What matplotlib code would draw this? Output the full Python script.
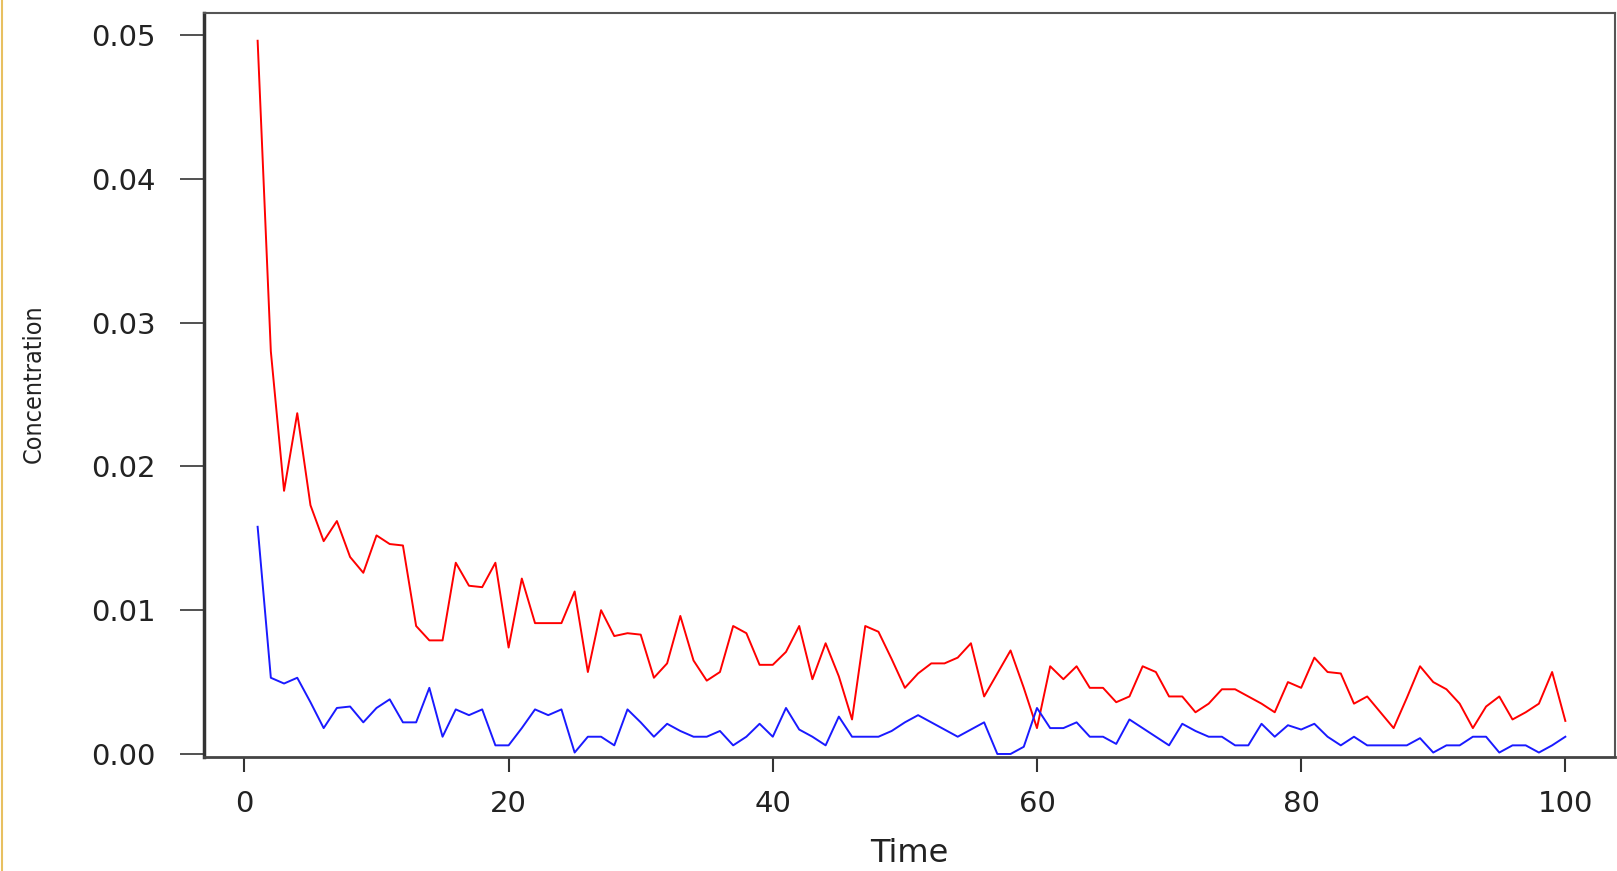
import matplotlib
matplotlib.use("Agg")
import matplotlib.pyplot as plt
from matplotlib.lines import Line2D

# ------------------------------------------------------------------
# Data (time steps 1..100)
# ------------------------------------------------------------------
time = list(range(1, 101))

red_conc = [
    0.0496, 0.0280, 0.0183, 0.0237, 0.0173, 0.0148, 0.0162, 0.0137, 0.0126, 0.0152,
    0.0146, 0.0145, 0.0089, 0.0079, 0.0079, 0.0133, 0.0117, 0.0116, 0.0133, 0.0074,
    0.0122, 0.0091, 0.0091, 0.0091, 0.0113, 0.0057, 0.0100, 0.0082, 0.0084, 0.0083,
    0.0053, 0.0063, 0.0096, 0.0065, 0.0051, 0.0057, 0.0089, 0.0084, 0.0062, 0.0062,
    0.0071, 0.0089, 0.0052, 0.0077, 0.0054, 0.0024, 0.0089, 0.0085, 0.0066, 0.0046,
    0.0056, 0.0063, 0.0063, 0.0067, 0.0077, 0.0040, 0.0056, 0.0072, 0.0046, 0.0018,
    0.0061, 0.0052, 0.0061, 0.0046, 0.0046, 0.0036, 0.0040, 0.0061, 0.0057, 0.0040,
    0.0040, 0.0029, 0.0035, 0.0045, 0.0045, 0.0040, 0.0035, 0.0029, 0.0050, 0.0046,
    0.0067, 0.0057, 0.0056, 0.0035, 0.0040, 0.0029, 0.0018, 0.0039, 0.0061, 0.0050,
    0.0045, 0.0035, 0.0018, 0.0033, 0.0040, 0.0024, 0.0029, 0.0035, 0.0057, 0.0023,
]

blue_conc = [
    0.0158, 0.0053, 0.0049, 0.0053, 0.0036, 0.0018, 0.0032, 0.0033, 0.0022, 0.0032,
    0.0038, 0.0022, 0.0022, 0.0046, 0.0012, 0.0031, 0.0027, 0.0031, 0.0006, 0.0006,
    0.0018, 0.0031, 0.0027, 0.0031, 0.0001, 0.0012, 0.0012, 0.0006, 0.0031, 0.0022,
    0.0012, 0.0021, 0.0016, 0.0012, 0.0012, 0.0016, 0.0006, 0.0012, 0.0021, 0.0012,
    0.0032, 0.0017, 0.0012, 0.0006, 0.0026, 0.0012, 0.0012, 0.0012, 0.0016, 0.0022,
    0.0027, 0.0022, 0.0017, 0.0012, 0.0017, 0.0022, 0.0000, 0.0000, 0.0005, 0.0032,
    0.0018, 0.0018, 0.0022, 0.0012, 0.0012, 0.0007, 0.0024, 0.0018, 0.0012, 0.0006,
    0.0021, 0.0016, 0.0012, 0.0012, 0.0006, 0.0006, 0.0021, 0.0012, 0.0020, 0.0017,
    0.0021, 0.0012, 0.0006, 0.0012, 0.0006, 0.0006, 0.0006, 0.0006, 0.0011, 0.0001,
    0.0006, 0.0006, 0.0012, 0.0012, 0.0001, 0.0006, 0.0006, 0.0001, 0.0006, 0.0012,
]

x_ticks = [0, 20, 40, 60, 80, 100]
y_ticks = [0.00, 0.01, 0.02, 0.03, 0.04, 0.05]
y_tick_labels = ["0.00", "0.01", "0.02", "0.03", "0.04", "0.05"]

# ------------------------------------------------------------------
# Figure
# ------------------------------------------------------------------
W_PX, H_PX, DPI = 1617, 871, 100
fig = plt.figure(figsize=(W_PX / DPI, H_PX / DPI), dpi=DPI)
fig.patch.set_facecolor("white")

left, right = 204 / W_PX, 1615 / W_PX
bottom, top = 1 - 757 / H_PX, 1 - 13 / H_PX
ax = fig.add_axes([left, bottom, right - left, top - bottom])

ax.plot(time, red_conc, color="#ff0000", lw=1.4)
ax.plot(time, blue_conc, color="#1a1aff", lw=1.4)

ax.set_xlim(-3.06, 103.76)
ax.set_ylim(-0.00021, 0.05153)

ax.set_xticks(x_ticks)
ax.set_xticklabels([str(v) for v in x_ticks])
ax.set_yticks(y_ticks)
ax.set_yticklabels(y_tick_labels)

ax.tick_params(axis="x", direction="out", length=10.8, width=1.5,
               color="#333333", pad=13, labelsize=21, labelcolor="#222222")
ax.tick_params(axis="y", direction="out", length=17, width=1.2,
               color="#333333", pad=18, labelsize=21, labelcolor="#222222")

for name, sp in ax.spines.items():
    sp.set_color("#555555")
    sp.set_linewidth(1.5)
ax.spines["left"].set_color("#333333")
ax.spines["left"].set_linewidth(2.5)
ax.spines["bottom"].set_color("#444444")
ax.spines["bottom"].set_linewidth(2.0)

# axis titles (the x title sits right at the bottom edge, as in the screenshot)
fig.text((left + right) / 2, 9 / H_PX, "Time", ha="center", va="baseline",
         fontsize=23, color="#222222")
fig.text(34 / W_PX, 1 - 384 / H_PX, "Concentration", ha="center", va="center",
         rotation=90, fontsize=18, fontstretch="condensed", color="#222222")

# thin yellow frame edge on the far left of the screenshot
fig.add_artist(Line2D([2 / W_PX, 2 / W_PX], [0, 1], transform=fig.transFigure,
                      color="#e8c060", lw=1.5))

fig.savefig("out.png", dpi=DPI)
